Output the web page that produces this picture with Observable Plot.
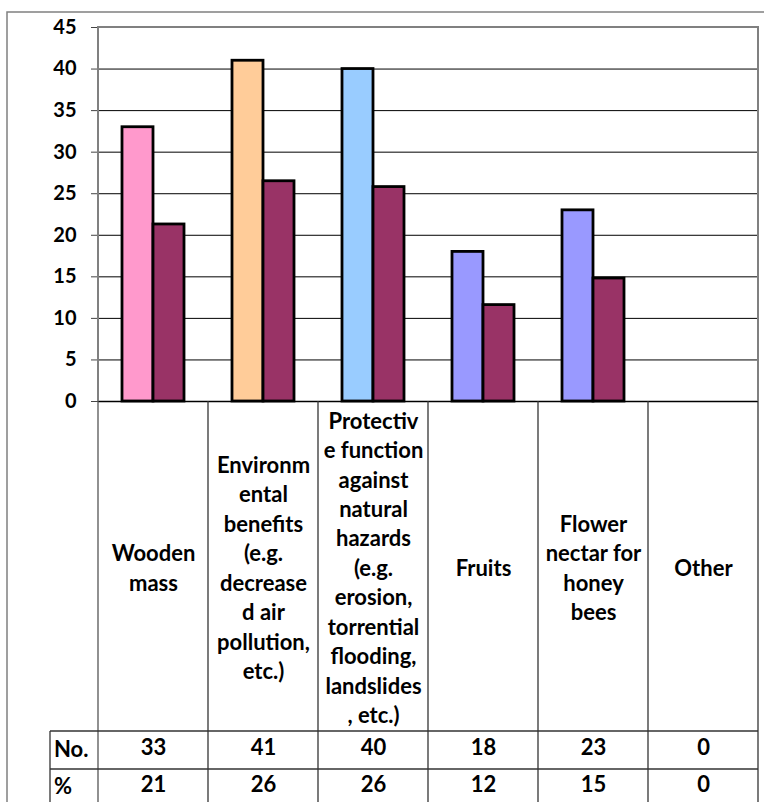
<!DOCTYPE html>
<html>
<head>
<meta charset="utf-8">
<script src="https://cdn.jsdelivr.net/npm/d3@7"></script>
<script src="https://cdn.jsdelivr.net/npm/@observablehq/plot@0.6"></script>
<style>
  html, body { margin: 0; padding: 0; background: #fff; }
  #chart { position: relative; width: 764px; height: 802px; overflow: hidden; }
</style>
</head>
<body>
<div id="chart"></div>
<script>
// ---- data ----
const categories = [
  "Wooden mass",
  "Environmental benefits (e.g. decreased air pollution, etc.)",
  "Protective function against natural hazards (e.g. erosion, torrential flooding, landslides, etc.)",
  "Fruits",
  "Flower nectar for honey bees",
  "Other"
];
const categoryLabels = [
  "Wooden\nmass",
  "Environm\nental\nbenefits\n(e.g.\ndecrease\nd air\npollution,\netc.)",
  "Protectiv\ne function\nagainst\nnatural\nhazards\n(e.g.\nerosion,\ntorrential\nflooding,\nlandslides\n, etc.)",
  "Fruits",
  "Flower\nnectar for\nhoney\nbees",
  "Other"
];
const seriesNames = ["No.", "%"];
const countValues = [33, 41, 40, 18, 23, 0];
const percentValues = [21.3, 26.5, 25.8, 11.6, 14.8, 0];
const countTableLabels = ["33", "41", "40", "18", "23", "0"];
const percentTableLabels = ["21", "26", "26", "12", "15", "0"];
const yTicks = [0, 5, 10, 15, 20, 25, 30, 35, 40, 45];
const categoryColors = ["#FF99CC", "#FFCC99", "#99CCFF", "#9999FF", "#9999FF", "#9999FF"];
const percentColor = "#993366";

// ---- derived tables ----
const bars = categories.flatMap((c, i) => [
  {category: c, series: seriesNames[0], value: countValues[i], color: categoryColors[i]},
  {category: c, series: seriesNames[1], value: percentValues[i], color: percentColor}
]);
const cats = categories.map((c, i) => ({
  category: c, label: categoryLabels[i], count: countTableLabels[i], pct: percentTableLabels[i]
}));

const W = 764, H = 802;
const FONT = "Lato, 'Open Sans', sans-serif";

const chart = Plot.plot({
  width: W,
  height: H,
  marginLeft: 97,
  marginRight: 6,
  marginTop: 27,
  marginBottom: 401,
  style: {fontFamily: FONT, color: "black", background: "white"},
  fx: {domain: categories, padding: 0, axis: null, label: null},
  x: {domain: seriesNames, paddingInner: 0, paddingOuter: 0.774, axis: null, label: null},
  y: {domain: [0, 45], axis: null, label: null},
  color: {type: "identity"},
  marks: [
    Plot.ruleY(yTicks.filter(v => v > 0 && v < 45), {stroke: "black", strokeWidth: 1}),
    Plot.barY(bars, {fx: "category", x: "series", y: "value", fill: "color", stroke: "black", strokeWidth: 2.8}),
    Plot.ruleY([0], {stroke: "black", strokeWidth: 1.5}),
    Plot.axisY(yTicks, {tickSize: 7, tickPadding: 15, fontSize: 20, fontWeight: "bold", stroke: "#444", label: null}),
    Plot.text(cats, {fx: "category", text: "label", frameAnchor: "bottom", dy: 165, lineAnchor: "middle", lineHeight: 1.34, fontSize: 22, fontWeight: "bold", fill: "black"}),
    Plot.text(cats, {fx: "category", text: "count", frameAnchor: "bottom", dy: 353, fontSize: 22, fontWeight: "bold", fill: "black"}),
    Plot.text(cats, {fx: "category", text: "pct", frameAnchor: "bottom", dy: 390, fontSize: 22, fontWeight: "bold", fill: "black"})
  ]
});

document.getElementById("chart").appendChild(chart);

// ---- frame and data-table lines, derived from Plot's scales ----
const svg = d3.select(chart);
const fx = chart.scale("fx");
const y = chart.scale("y");
const bw = fx.bandwidth;
const edges = categories.map(c => fx.apply(c));
edges.push(edges[edges.length - 1] + bw);
const xL = edges[0], xR = edges[edges.length - 1];
const y0 = y.apply(0), yTop = y.apply(45);
const rowTop = y0 + 330, rowMid = y0 + 368;
const rowLabelX = 50;

// enlarge & embolden the y tick labels
svg.selectAll('g[aria-label*="y-axis"]').filter(function () { return this.querySelector("text"); })
  .attr("font-size", 20).attr("font-weight", "bold")
  .style("font-size", "20px").style("font-weight", "bold");
svg.selectAll('g[aria-label*="y-axis"] text')
  .attr("font-size", 20).attr("font-weight", "bold")
  .style("font-size", "20px").style("font-weight", "bold").attr("fill", "black");

const g = svg.append("g").attr("fill", "none");
// outer chart-area border
svg.insert("rect", ":first-child")
  .attr("x", 7).attr("y", 12).attr("width", W + 20).attr("height", H + 20)
  .attr("fill", "none").attr("stroke", "#808080").attr("stroke-width", 1.5);
// plot frame (gray)
g.append("path")
  .attr("d", `M${xL},${y0}V${yTop}H${xR}V${y0}`)
  .attr("stroke", "#808080").attr("stroke-width", 2);
// table vertical lines
edges.forEach((x, i) => {
  g.append("line").attr("x1", x).attr("x2", x).attr("y1", y0).attr("y2", H + 5)
    .attr("stroke", i === 0 ? "#555" : "#333").attr("stroke-width", 1.3);
});
g.append("line").attr("x1", rowLabelX).attr("x2", rowLabelX).attr("y1", rowTop).attr("y2", H + 5)
  .attr("stroke", "#333").attr("stroke-width", 1.3);
[rowTop, rowMid].forEach(yy => {
  g.append("line").attr("x1", rowLabelX).attr("x2", xR).attr("y1", yy).attr("y2", yy)
    .attr("stroke", "#333").attr("stroke-width", 1.3);
});
// row labels
const rowLabels = [seriesNames[0], seriesNames[1]];
const rowY = [rowTop + 18, rowMid + 17];
rowLabels.forEach((t, i) => {
  svg.append("text").attr("x", rowLabelX + 4).attr("y", rowY[i]).attr("dy", "0.35em")
    .attr("text-anchor", "start")
    .attr("font-family", FONT).attr("font-size", 22).attr("font-weight", "bold")
    .attr("fill", "black").text(t);
});
</script>
</body>
</html>
